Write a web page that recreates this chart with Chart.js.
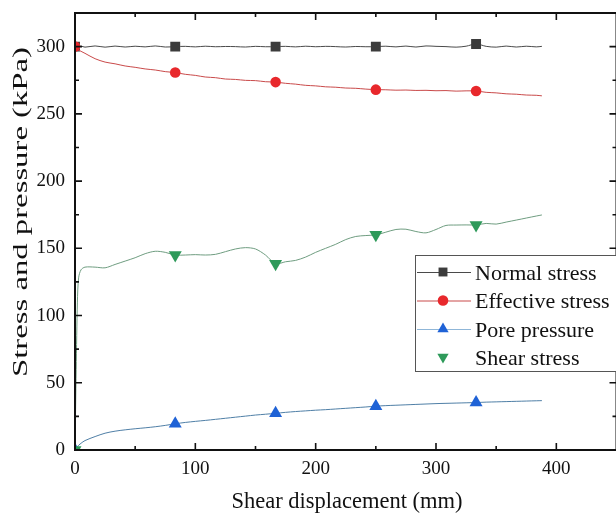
<!DOCTYPE html>
<html>
<head>
<meta charset="utf-8">
<script src="https://cdn.jsdelivr.net/npm/chart.js@4.4.0/dist/chart.umd.min.js"></script>
<style>
  html, body { margin: 0; padding: 0; background: #fff; overflow: hidden; }
  #wrap { width: 624px; height: 513px; }
</style>
</head>
<body>
<div id="wrap"><canvas id="shearChart" width="624" height="513"></canvas></div>
<script>
// shear displacement (mm) for every sample
const dispMm = [0, 1, 2, 3, 5, 8.3, 16.7, 25, 33.3, 41.7, 50, 58.3, 66.7, 75, 83.3, 91.7, 100, 108.3, 116.7, 125,
    133.3, 141.7, 150, 158.3, 166.7, 175, 183.3, 191.7, 200, 208.3, 216.7, 225, 233.3, 241.7, 250, 258.3, 266.7,
    275, 283.3, 291.7, 300, 308.3, 316.7, 325, 333.3, 341.7, 350, 358.3, 366.7, 375, 383.3, 388];

// samples that get a symbol
const markerMm = [0, 83.3, 166.7, 250, 333.3];

const normalStress = [300, 300, 300, 300, 300.4, 299.6, 300.5, 299.6, 300.4, 299.7, 300.3, 299.8, 300.5, 299.7, 300,
    300.2, 299.8, 300.3, 299.9, 300.1, 300, 299.7, 300.2, 299.9, 300, 300.2, 299.8, 300.3, 299.9, 300.2, 300,
    299.7, 300.1, 299.9, 300, 300.3, 299.8, 300.4, 299.7, 300.5, 300.2, 300, 299.6, 300.3, 302, 300.2, 299.6,
    300.4, 299.7, 300.3, 299.8, 300.2];

const effectiveStress = [300, 299, 298, 297.5, 296.5, 295, 291, 288.5, 287.2, 285.6, 284.6, 283.4, 282.6, 281.4,
    280.7, 279.4, 278.6, 277.4, 276.9, 275.9, 275.6, 274.9, 274.7, 273.9, 273.6, 272.7, 272.1, 271.2, 270.8,
    270.1, 269.8, 269.2, 269, 268.4, 268, 267.9, 267.6, 267.7, 267.4, 267.5, 267.2, 267.3, 266.9, 267.1, 267,
    266, 265.6, 264.9, 264.6, 264, 263.8, 263.4];

const porePressure = [0, 1, 2.5, 3.5, 5, 7, 10, 12.5, 14, 15, 15.8, 16.5, 17.3, 18.3, 19.5, 20.5, 21.3, 22, 22.8,
    23.6, 24.4, 25.2, 26, 26.6, 27.3, 28, 28.6, 29.1, 29.6, 30, 30.5, 31, 31.5, 32, 32.6, 33, 33.3, 33.6, 33.9,
    34.2, 34.5, 34.7, 34.9, 35.1, 35.3, 35.6, 35.8, 36, 36.2, 36.4, 36.6, 36.7];

const shearStress = [0, 60, 110, 128, 134, 136, 136, 135.5, 138, 140.5, 143, 146, 147.8, 147, 145, 145, 145.3, 145,
    145.5, 147.5, 149.5, 150.5, 149.5, 145, 138.5, 140, 141, 143.5, 147, 150, 153, 156.5, 158.8, 159.5, 160, 162,
    164, 164.2, 162.5, 161.5, 164, 167, 167.3, 167.4, 167.4, 168.5, 168, 169.5, 171, 172.5, 174, 174.8];

const seriesNames = ['Normal stress', 'Effective stress', 'Pore pressure', 'Shear stress'];

const xTicks = [0, 100, 200, 300, 400];
const xMinorTicks = [50, 150, 250, 350];
const yTicks = [0, 50, 100, 150, 200, 250, 300];
const yMinorTicks = [25, 75, 125, 175, 225, 275];

const SERIF = '"Liberation Serif", "Times New Roman", serif';

const toPoints = (ys) => ys.map((v, i) => ({x: dispMm[i], y: v}));
const markSize = (r) => (ctx) => markerMm.includes(dispMm[ctx.dataIndex]) ? r : 0;

const makeSet = (label, values, line, fill, style, r, extra) => Object.assign({
    label: label,
    data: toPoints(values),
    borderColor: line,
    borderWidth: 1,
    backgroundColor: fill,
    pointBackgroundColor: fill,
    pointBorderColor: fill,
    pointBorderWidth: 0,
    pointStyle: style,
    pointRadius: markSize(r),
    pointHoverRadius: 0,
    tension: 0.3,
    legendLine: line,
    legendRadius: r
}, extra || {});

const datasets = [
    makeSet(seriesNames[0], normalStress, '#4a4a4a', '#3c3c3c', 'rect', 7, {order: 2, legendRadius: 6.3}),
    makeSet(seriesNames[1], effectiveStress, '#c94a4a', '#e8282c', 'circle', 5.3, {order: 0}),
    makeSet(seriesNames[2], porePressure, '#4f7fa6', '#1f62d6', 'triangle', 7.5, {order: 2, legendLine: '#8fb6d8', legendRadius: 6.5}),
    makeSet(seriesNames[3], shearStress, '#6f9d80', '#2e9a5a', 'triangle', 7.5, {order: 1, pointRotation: 180, legendLine: null, legendRadius: 6.5})
];

// box, inward ticks, axis titles and legend
const decorations = {
    id: 'decorations',
    afterDraw(chart) {
        const {ctx, chartArea: a, scales} = chart;
        const sx = scales.x, sy = scales.y;
        ctx.save();

        ctx.strokeStyle = '#111';
        ctx.lineWidth = 2;
        ctx.strokeRect(a.left, a.top, a.right - a.left, a.bottom - a.top);

        ctx.lineWidth = 1.6;
        ctx.beginPath();
        const tickX = (v, len) => {
            const p = sx.getPixelForValue(v);
            ctx.moveTo(p, a.bottom); ctx.lineTo(p, a.bottom - len);
            ctx.moveTo(p, a.top); ctx.lineTo(p, a.top + len);
        };
        const tickY = (v, len) => {
            const p = sy.getPixelForValue(v);
            ctx.moveTo(a.left, p); ctx.lineTo(a.left + len, p);
            ctx.moveTo(a.right, p); ctx.lineTo(a.right - len, p);
        };
        xTicks.forEach(v => tickX(v, 7));
        xMinorTicks.forEach(v => tickX(v, 4));
        yTicks.forEach(v => tickY(v, 7));
        yMinorTicks.forEach(v => tickY(v, 4));
        ctx.stroke();

        // axis titles
        ctx.fillStyle = '#111';
        ctx.font = '22.5px ' + SERIF;
        ctx.textAlign = 'center';
        ctx.textBaseline = 'alphabetic';
        ctx.fillText('Shear displacement (mm)', 347, 508);

        const yTitle = 'Stress and pressure (kPa)';
        ctx.save();
        ctx.font = '21.5px ' + SERIF;
        ctx.translate(27, 212);
        ctx.rotate(-Math.PI / 2);
        ctx.scale(330 / ctx.measureText(yTitle).width, 1);
        ctx.fillText(yTitle, 0, 0);
        ctx.restore();

        // legend
        const box = {left: 415, top: 255, right: 630, bottom: 371};
        ctx.fillStyle = '#fff';
        ctx.fillRect(box.left, box.top, box.right - box.left, box.bottom - box.top);
        ctx.strokeStyle = '#555';
        ctx.lineWidth = 1;
        ctx.strokeRect(box.left + 0.5, box.top + 0.5, box.right - box.left, box.bottom - box.top);

        const rows = [272, 300.5, 329, 357];
        chart.data.datasets.forEach((ds, i) => {
            const yRow = rows[i];
            if (ds.legendLine) {
                ctx.strokeStyle = ds.legendLine;
                ctx.lineWidth = 1;
                ctx.beginPath();
                ctx.moveTo(417, yRow + 0.5);
                ctx.lineTo(471, yRow + 0.5);
                ctx.stroke();
            }
            ctx.fillStyle = ds.pointBackgroundColor;
            ctx.strokeStyle = ds.pointBorderColor;
            Chart.helpers.drawPoint(ctx, {
                pointStyle: ds.pointStyle,
                rotation: ds.pointRotation || 0,
                radius: ds.legendRadius,
                borderWidth: 0
            }, 443, yRow);
            ctx.fillStyle = '#111';
            ctx.font = '22px ' + SERIF;
            ctx.textAlign = 'left';
            ctx.fillText(ds.label, 475, yRow + 7.5);
        });

        ctx.restore();
    }
};

new Chart(document.getElementById('shearChart'), {
    type: 'line',
    data: {datasets: datasets},
    options: {
        responsive: false,
        animation: false,
        layout: {padding: {top: 13, right: 0, left: 0, bottom: 0}},
        plugins: {legend: {display: false}, tooltip: {enabled: false}},
        scales: {
            x: {
                type: 'linear',
                min: 0,
                max: 450,
                afterBuildTicks: s => { s.ticks = xTicks.map(v => ({value: v})); },
                afterFit: s => { s.height = 63; s.paddingLeft = 0; s.paddingRight = 0; },
                grid: {display: false, drawTicks: false},
                border: {display: false},
                ticks: {color: '#111', padding: 8, font: {family: SERIF, size: 19}, maxRotation: 0}
            },
            y: {
                min: 0,
                max: 325,
                afterBuildTicks: s => { s.ticks = yTicks.map(v => ({value: v})); },
                afterFit: s => { s.width = 75; s.paddingTop = 0; s.paddingBottom = 0; },
                grid: {display: false, drawTicks: false},
                border: {display: false},
                ticks: {color: '#111', padding: 10, font: {family: SERIF, size: 19}}
            }
        }
    },
    plugins: [decorations]
});
</script>
</body>
</html>
